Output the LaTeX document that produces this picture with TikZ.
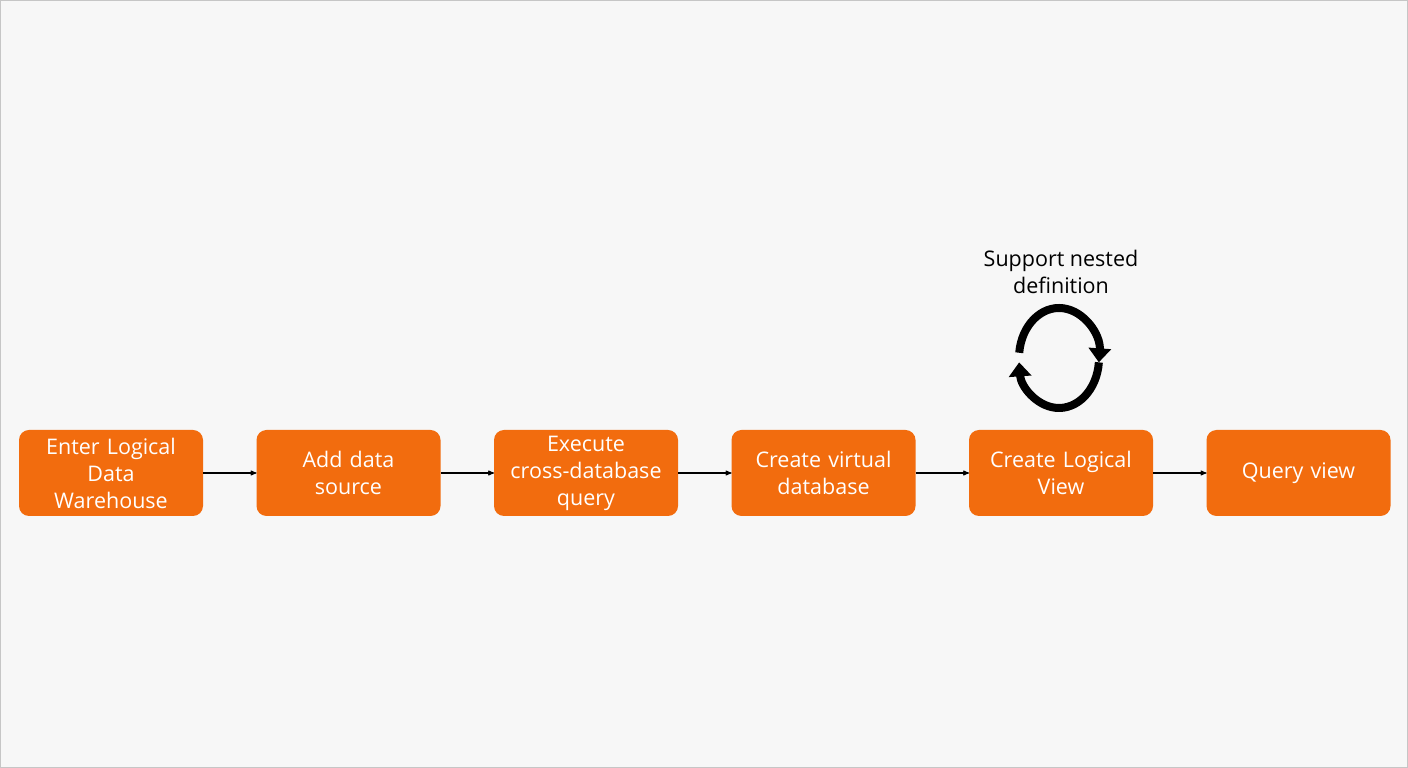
\documentclass[tikz,border=0pt]{standalone}
\usepackage{fontspec}
\setmainfont{Open Sans}
\usetikzlibrary{calc}
\usetikzlibrary{arrows,arrows.meta}
\usetikzlibrary{positioning}
\definecolor{stepfill}{RGB}{242,108,14}
\definecolor{pagefill}{RGB}{247,247,247}

\begin{document}
\begin{tikzpicture}[x=1pt,y=1pt,>=stealth',node distance=53.5pt,
    stepbox/.style={fill=stepfill,text=white,rounded corners=10pt,
      minimum width=184pt,minimum height=86pt,text width=176pt,align=center,
      inner sep=0pt,outer sep=0pt,font=\fontsize{21.5}{27}\selectfont},
    flow/.style={->,line width=1.1pt},
    loopline/.style={line width=8pt,-{Triangle[length=14pt,width=22pt]}}]

  % page
  \draw[color=gray!45,fill=pagefill,line width=1pt] (0.5,0.5) rectangle (1407.5,767.5);
  \useasboundingbox (0,0) rectangle (1408,768);

  % steps
  \node(enter) [stepbox] at (111,295) {Enter Logical\\Data\\Warehouse};
  \node(source) [stepbox, right=of enter] {Add data\\source};
  \node(query) [stepbox, right=of source] {Execute\\cross-database\\query};
  \node(vdb) [stepbox, right=of query] {Create virtual\\database};
  \node(view) [stepbox, right=of vdb] {Create Logical\\View};
  \node(qview) [stepbox, right=of view] {Query view};

  \foreach \a / \b in {enter/source, source/query, query/vdb, vdb/view, view/qview}
  {
    \draw[flow] (\a) -- (\b);
  }

  % nested definition loop
  \coordinate(loop) at ($(view.north)+(-2,72)$);
  \draw[loopline] ($(loop)+(174:40 and 50)$) arc[start angle=174, end angle=-5, x radius=40, y radius=50];
  \draw[loopline] ($(loop)+(-5:40 and 50)$) arc[start angle=-5, end angle=-175, x radius=40, y radius=50];
  \node(nestnote) [align=center,font=\fontsize{21.5}{27}\selectfont] at ($(view.north)+(0,158)$) {Support nested\\definition};
\end{tikzpicture}
\end{document}
